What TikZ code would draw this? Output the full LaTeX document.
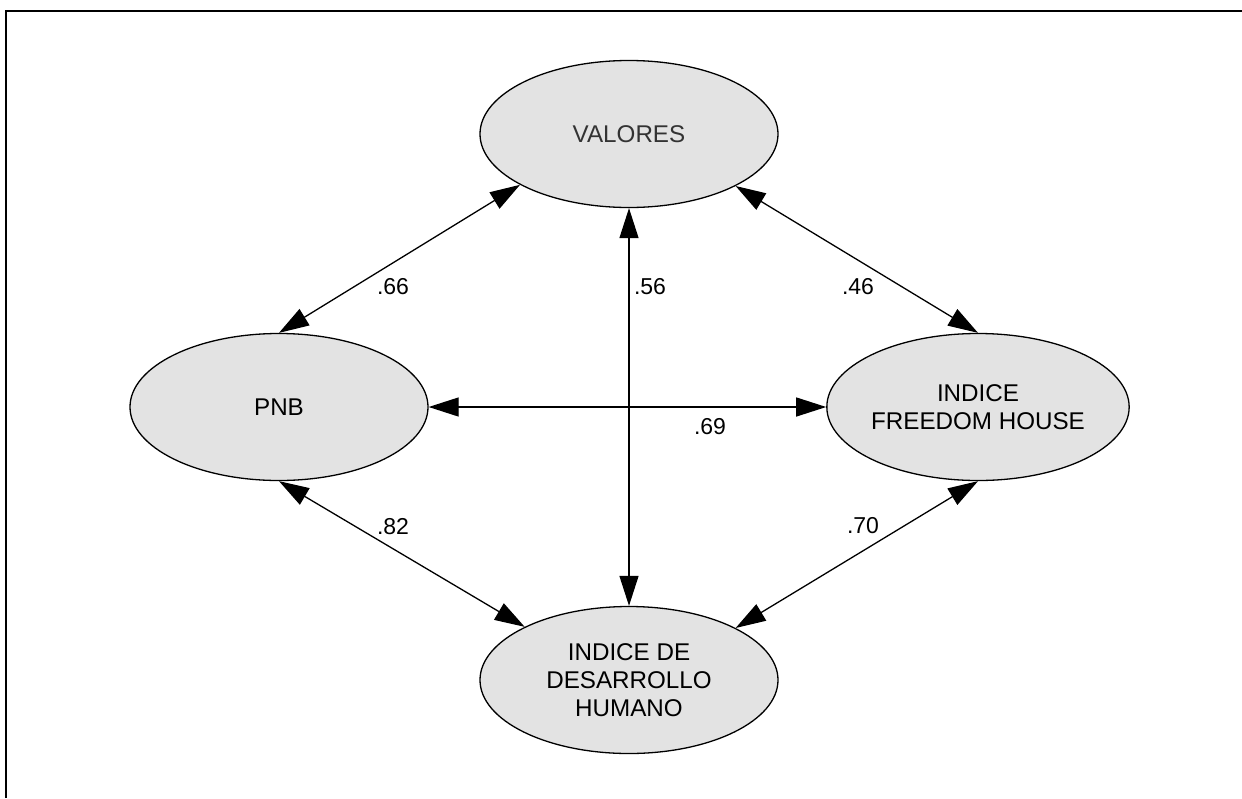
\documentclass[tikz,border=0pt]{standalone}
\usepackage{fontspec}
\setmainfont{Liberation Sans}
\usetikzlibrary{shapes.geometric, arrows.meta}
\tikzset{
  node_font/.style = {font=\fontsize{12.1}{14}\selectfont},
  label_font/.style = {font=\fontsize{11.5}{13.8}\selectfont},
  var_fill/.style = {fill=black!11}
}
\tikzset{
  latent_var/.style = {node_font, ellipse, draw, var_fill, align=center, line width=0.65pt,
    minimum width=149pt, minimum height=73.5pt, inner sep=0},
  both_ways/.style = {{Triangle[length=15pt, width=9.5pt]}-{Triangle[length=15pt, width=9.5pt]}, line width=0.65pt},
  coef/.style = {label_font},
  frame_line/.style = {line width=1pt}
}

\begin{document}
\begin{tikzpicture}[x=0.5pt, y=-0.5pt]
    \useasboundingbox (0,0) rectangle (1242,798);
    \draw[frame_line] (6,798) -- (6,11) -- (1242,11);

    % Variables
    \node[latent_var, text=black!80] (valores) at (629,134) {VALORES};
    \node[latent_var] (pnb) at (279,407) {PNB};
    \node[latent_var] (freedom) at (978,407) {INDICE\\FREEDOM HOUSE};
    \node[latent_var] (idh) at (629,680) {INDICE DE\\DESARROLLO\\HUMANO};

    % Correlations
    \draw[both_ways] (valores.205.5) -- (pnb.north);
    \draw[both_ways] (valores.334.5) -- (freedom.north);
    \draw[both_ways] (valores.south) -- (idh.north);
    \draw[both_ways] (pnb.east) -- (freedom.west);
    \draw[both_ways] (pnb.south) -- (idh.153.5);
    \draw[both_ways] (freedom.south) -- (idh.26.5);

    % Coefficients
    \node[coef] (r_vp) at (393,287) {.66};
    \node[coef] (r_vi) at (650,287) {.56};
    \node[coef] (r_vf) at (858,287) {.46};
    \node[coef] (r_pf) at (710,427) {.69};
    \node[coef] (r_pi) at (393,527) {.82};
    \node[coef] (r_fi) at (863,526) {.70};
\end{tikzpicture}
\end{document}
